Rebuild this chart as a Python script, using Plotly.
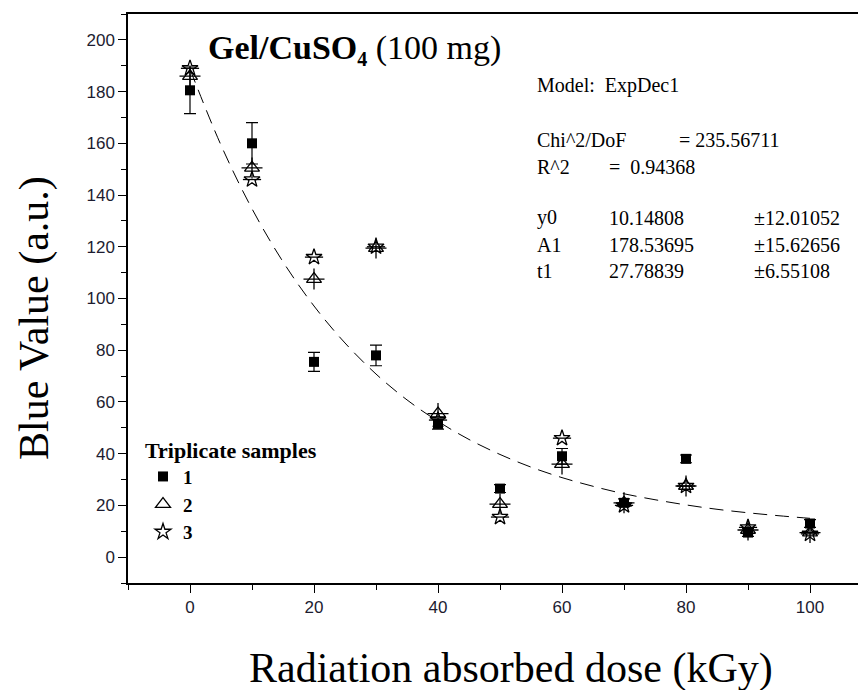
import plotly.graph_objects as go

# ---- data ----
dose = [0, 10, 20, 30, 40, 50, 60, 70, 80, 90, 100]
sample1 = [180.5, 160.0, 75.5, 78.0, 51.5, 26.5, 39.0, 21.0, 38.0, 9.5, 13.0]
sample1_err = [9.0, 8.0, 3.7, 4.0, 2.0, 1.5, 3.0, 1.5, 1.5, 1.5, 1.5]
sample2 = [186.0, 150.5, 107.5, 119.5, 55.5, 20.5, 36.0, 21.0, 27.5, 10.5, 9.5]
sample3 = [189.0, 146.0, 116.0, 120.0, 53.0, 15.5, 46.0, 20.0, 27.5, 11.5, 9.0]

fit_x = [0, 5, 10, 15, 20, 25, 30, 35, 40, 45, 50, 55, 60, 65, 70, 75, 80, 85, 90, 95, 100]
fit_y = [188.7, 159.3, 134.7, 114.2, 97.1, 82.8, 70.8, 60.8, 52.5, 45.5, 39.7,
         34.8, 30.75, 27.4, 24.5, 22.2, 20.2, 18.5, 17.15, 16.0, 15.0]

x_ticks = [0, 20, 40, 60, 80, 100]
y_ticks = [0, 20, 40, 60, 80, 100, 120, 140, 160, 180, 200]

# ---- layout geometry (pixels) ----
W, H = 860, 690
L, R, T, B = 128, 858, 14, 583

def px(x):
    return (x - L) / (R - L)

def py(y):
    return (B - y) / (B - T)

SERIF = "Liberation Serif, Times New Roman, serif"
SANS = "Liberation Sans, Arial, sans-serif"

fig = go.Figure()

fig.add_trace(go.Scatter(
    x=fit_x, y=fit_y, mode="lines", line=dict(color="black", width=1, dash="14px,8px"),
    line_shape="spline", showlegend=False, hoverinfo="skip"))

fig.add_trace(go.Scatter(
    x=dose, y=sample1, mode="markers", name="<b>1</b>",
    marker=dict(symbol="square", size=10, color="black"),
    error_y=dict(type="data", array=sample1_err, visible=True, color="black", thickness=1.2, width=6)))

fig.add_trace(go.Scatter(
    x=dose, y=sample2, mode="markers", name="<b>2</b>", legendgroup="g2",
    marker=dict(symbol="triangle-up-open", size=13, color="black", line=dict(width=1.3, color="black"))))
fig.add_trace(go.Scatter(
    x=dose, y=sample2, mode="markers", legendgroup="g2", showlegend=False,
    marker=dict(symbol="cross-thin-open", size=15, color="black", line=dict(width=1.3, color="black"))))

fig.add_trace(go.Scatter(
    x=dose, y=sample3, mode="markers", name="<b>3</b>", legendgroup="g3",
    marker=dict(symbol="star-open", size=12, color="black", line=dict(width=1.3, color="black"))))
fig.add_trace(go.Scatter(
    x=dose, y=sample3, mode="markers", legendgroup="g3", showlegend=False,
    marker=dict(symbol="line-ew-open", size=13, color="black", line=dict(width=1.3, color="black"))))

axis_common = dict(
    showline=True, linecolor="black", linewidth=1.5,
    ticks="outside", ticklen=8, tickwidth=1.3, tickcolor="black",
    showgrid=False, zeroline=False,
    tickfont=dict(family=SANS, size=17, color="#1c1c30"),
)

fig.update_xaxes(range=[-10, 107.74], tickvals=x_ticks, mirror=True,
                 minor=dict(dtick=10, tick0=-10, ticks="outside", ticklen=5, tickwidth=1.3, tickcolor="black"),
                 **axis_common)
fig.update_yaxes(range=[-10, 210], tickvals=y_ticks,
                 minor=dict(dtick=10, tick0=-10, ticks="outside", ticklen=5, tickwidth=1.3, tickcolor="black"),
                 **axis_common)

ann = []

def add_text(text, xp, yp, size, xanchor="left", family=SERIF, angle=0):
    ann.append(dict(text=text, x=px(xp), y=py(yp), xref="paper", yref="paper",
                    xanchor=xanchor, yanchor="middle", showarrow=False, textangle=angle,
                    font=dict(family=family, size=size, color="black")))

add_text("<b>Gel/CuSO</b><sub><b><span style='font-size:20px'>4</span></b></sub> (100 mg)", 206, 49, 34)

FS = 20
add_text("Model:  ExpDec1", 535, 85, FS)
add_text("Chi^2/DoF", 535, 140, FS)
add_text("= 235.56711", 677, 140, FS)
add_text("R^2", 535, 167, FS)
add_text("=  0.94368", 607, 167, FS)
rows = [("y0", "10.14808", "±12.01052", 218),
        ("A1", "178.53695", "±15.62656", 245),
        ("t1", "27.78839", "±6.55108", 271)]
for a, b, c, yy in rows:
    add_text(a, 535, yy, FS)
    add_text(b, 607, yy, FS)
    add_text(c, 752, yy, FS)

add_text("Radiation absorbed dose (kGy)", 511, 668, 42, xanchor="center")
add_text("Blue Value (a.u.)", 35, 318, 42, xanchor="center", angle=-90)

fig.update_layout(
    width=W, height=H,
    margin=dict(l=L, r=W - R, t=T, b=H - B, pad=0),
    paper_bgcolor="white", plot_bgcolor="white",
    annotations=ann,
    legend=dict(x=px(143), y=py(429), xanchor="left", yanchor="top",
                bgcolor="rgba(0,0,0,0)",
                title=dict(text="<b>Triplicate samples</b>", font=dict(family=SERIF, size=22, color="black")),
                font=dict(family=SERIF, size=19, color="black"),
                itemwidth=30, tracegroupgap=0),
    showlegend=True,
)

fig.write_html("out.html")
